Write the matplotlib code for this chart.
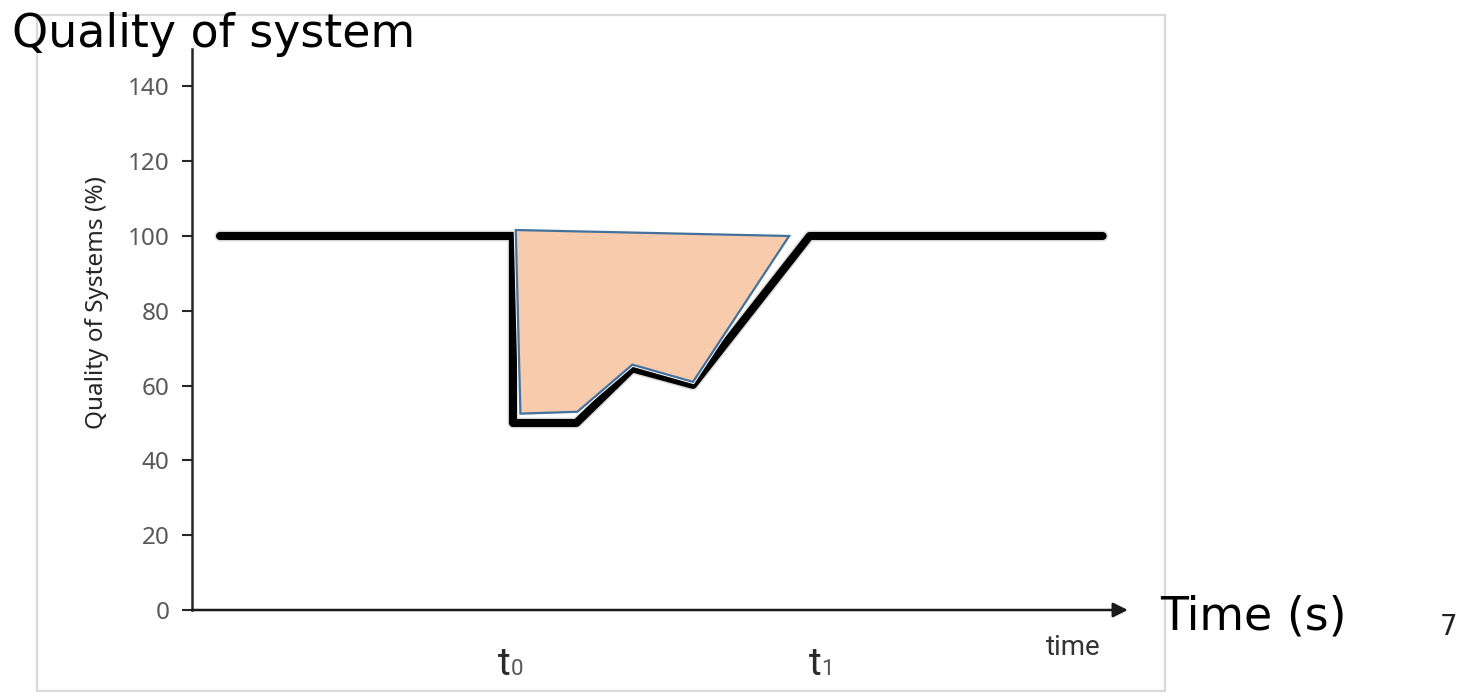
import matplotlib.pyplot as plt
from matplotlib.patches import Rectangle, Polygon

# quality curve (black line)
time_line = [3.0, 34.4, 34.4, 41.2, 47.2, 53.7, 66.2, 97.6]
quality_line = [100, 100, 50, 50, 64.6, 60.2, 100, 100]

# shaded loss area
fill_time = [34.7, 64.0, 53.7, 47.2, 41.3, 35.2]
fill_quality = [101.6, 100, 61, 65.6, 53, 52.5]

yticks = [0, 20, 40, 60, 80, 100, 120, 140]
t0_pos, t1_pos = 32.8, 66.1

W, H = 1470, 696
fig = plt.figure(figsize=(W / 100, H / 100), dpi=100)

def fx(px):
    return px / W

def fy(py):
    return 1 - py / H

# light gray frame around the chart
fig.patches.append(Rectangle((fx(37), fy(691)), fx(1165) - fx(37), fy(15) - fy(691),
                             transform=fig.transFigure, fill=False,
                             edgecolor='#d9d9d9', linewidth=1.6))

ax = fig.add_axes([fx(192), fy(610), fx(1125) - fx(192), fy(49) - fy(610)])
ax.set_xlim(0, 100)
ax.set_ylim(0, 150)

ax.plot(time_line, quality_line, color='#bbbbbb', lw=8, alpha=0.5,
        solid_joinstyle='round', solid_capstyle='round', zorder=2)
ax.plot(time_line, quality_line, color='black', lw=5.8,
        solid_joinstyle='round', solid_capstyle='round', zorder=3)

pts = list(zip(fill_time, fill_quality))
ax.add_patch(Polygon(pts, closed=True, facecolor='none', edgecolor='white', lw=3.0, zorder=4))
ax.add_patch(Polygon(pts, closed=True, facecolor='#f8cbad', edgecolor='#41719c', lw=1.6, zorder=5))

for s in ['top', 'right', 'bottom']:
    ax.spines[s].set_visible(False)
ax.spines['left'].set_linewidth(1.8)
ax.spines['left'].set_color('#262626')
ax.set_xticks([])
ax.set_yticks(yticks)
ax.tick_params(axis='y', length=7, width=1.5, color='#262626', pad=9,
               labelsize=17.5, labelcolor='#595959')
for lab in ax.get_yticklabels():
    lab.set_family('Noto Sans')
ax.set_ylabel('Quality of Systems (%)', fontsize=17.5, family='Noto Sans',
              color='#262626', va='center')
ax.yaxis.set_label_coords(-0.102, 0.548)

# x axis arrow
ax.annotate('', xy=(100.3, 0), xytext=(0, 0), xycoords='data',
            arrowprops=dict(arrowstyle='-|>', color='#1a1a1a', lw=1.8,
                            mutation_scale=22, shrinkA=0, shrinkB=0),
            annotation_clip=False)

# t0 / t1 labels
for pos, sub in [(t0_pos, '0'), (t1_pos, '1')]:
    ax.text(pos, -17.4, 't', fontsize=28, family='Roboto', color='#2a2a2a',
            ha='left', va='baseline', clip_on=False)
    ax.text(pos + 1.35, -17.4, sub, fontsize=16, family='Roboto', color='#555555',
            ha='left', va='baseline', clip_on=False)
ax.text(94.4, -12.0, 'time', fontsize=20, family='Roboto', color='#333333',
        ha='center', va='baseline', clip_on=False)

fig.text(fx(12), fy(47), 'Quality of system', fontsize=33, family='DejaVu Sans',
         ha='left', va='baseline')
fig.text(fx(1160), fy(630), 'Time (s)', fontsize=33, family='DejaVu Sans',
         ha='left', va='baseline')
fig.text(fx(1440), fy(635), '7', fontsize=20, family='DejaVu Sans',
         ha='left', va='baseline', color='#222222')

fig.savefig('out.png', dpi=100)
